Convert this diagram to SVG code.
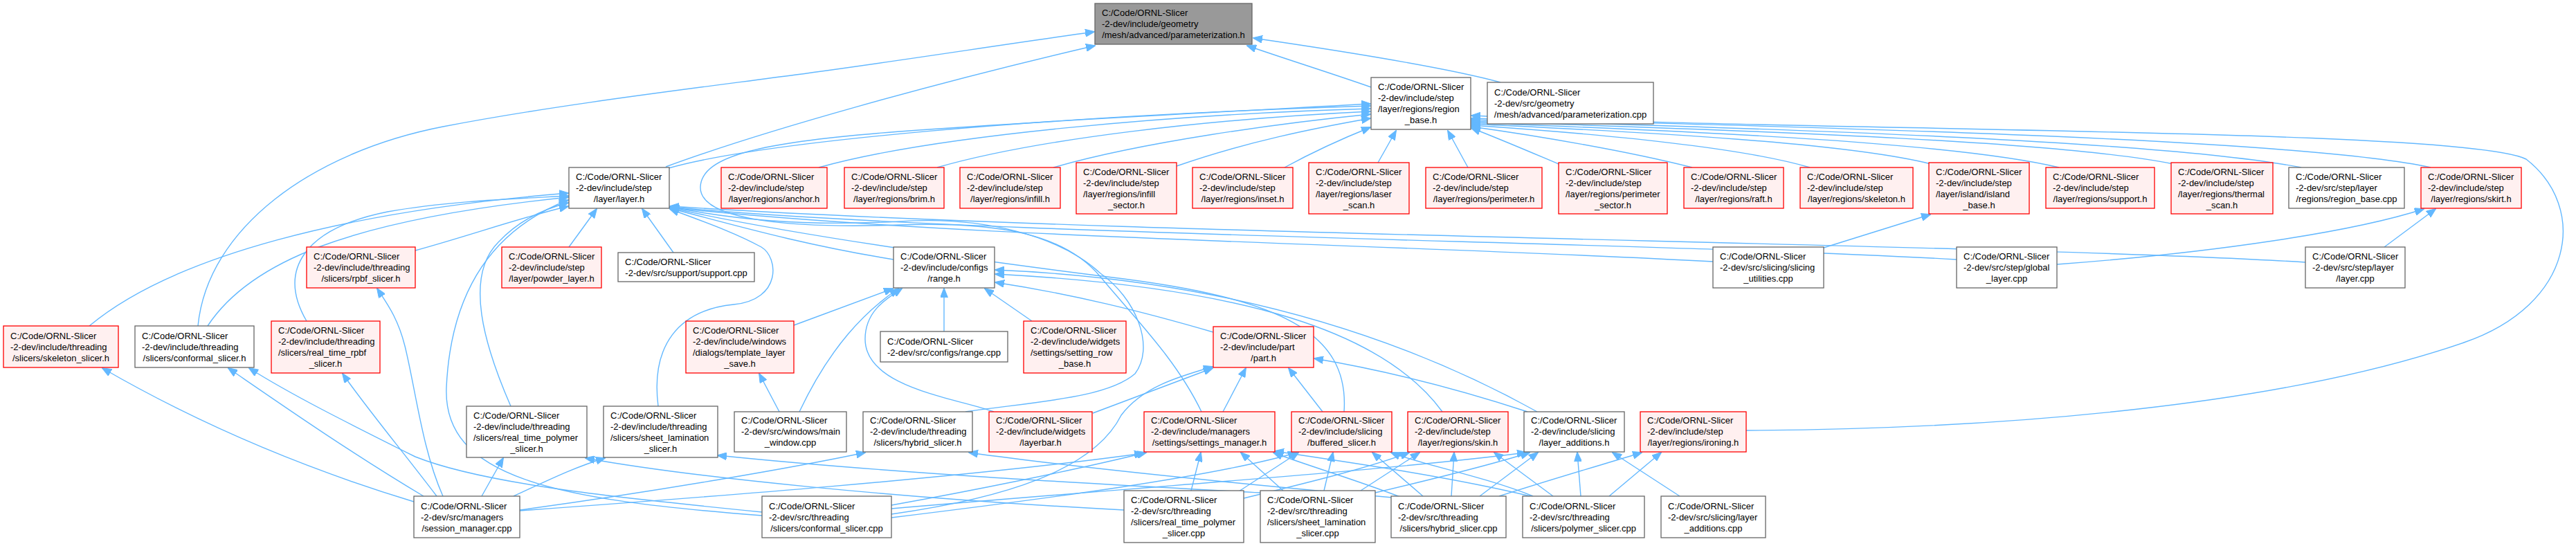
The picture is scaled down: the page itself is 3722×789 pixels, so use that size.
<svg xmlns="http://www.w3.org/2000/svg" width="3722" height="789" viewBox="0 0 3722 789">
<style>
.g{fill:#ffffff;stroke:#666666;stroke-width:1.3}
.r{fill:#fff0f0;stroke:#ff0000;stroke-width:1.3}
.root{fill:#999999;stroke:#666666;stroke-width:1.3}
text{font-family:"Liberation Sans",Arial,Helvetica,sans-serif;font-size:13px;fill:#000000}
.m{text-anchor:middle}
#edges path{fill:none;stroke:#63b8ff;stroke-width:1.4;marker-end:url(#ah)}
</style>
<defs>
<marker id="ah" markerWidth="14" markerHeight="11" refX="13" refY="5.5" orient="auto" markerUnits="userSpaceOnUse"><path d="M0,0 L14,5.5 L0,11 z" fill="#63b8ff" stroke="#63b8ff" stroke-width="1"/></marker>
</defs>
<rect x="0" y="0" width="3722" height="789" fill="#ffffff"/>
<g id="edges">
<path d="M1981,126 C1930,108 1860,86 1802,66"/>
<path d="M2168,119 C2080,95 1900,68 1811,55"/>
<path d="M962,241 C1100,190 1350,120 1582,66"/>
<path d="M286,471 C300,330 450,220 640,183 C800,152 1000,128 1150,108 C1300,88 1450,64 1581,46"/>
<path d="M1183,242 C1350,195 1700,165 1980,157"/>
<path d="M1354,242 C1500,200 1750,172 1980,161"/>
<path d="M1522,242 C1650,205 1850,178 1980,165"/>
<path d="M1700,240 C1800,205 1900,185 1980,171"/>
<path d="M1856,242 C1900,218 1940,200 1980,184"/>
<path d="M1991,235 L2017,189"/>
<path d="M2121,242 L2092,189"/>
<path d="M2252,237 C2200,215 2170,202 2126,185"/>
<path d="M2445,242 C2350,218 2220,196 2126,183"/>
<path d="M2615,242 C2500,208 2260,190 2126,181"/>
<path d="M2790,237 C2650,202 2300,188 2126,179"/>
<path d="M2975,242 C2800,200 2320,186 2126,177"/>
<path d="M3140,237 C2950,198 2350,184 2126,175"/>
<path d="M3325,242 C3100,198 2400,182 2126,173"/>
<path d="M3512,242 C3300,196 2450,180 2126,171"/>
<path d="M2523,622 C2900,620 3300,585 3560,495 C3720,440 3740,300 3650,230 C3560,185 2600,190 2126,167"/>
<path d="M966,243 C1100,205 1500,168 1980,153"/>
<path d="M1736,595 C1700,520 1640,460 1590,400 C1540,340 1450,320 1300,325 C1150,330 1010,320 1012,270 C1014,225 1100,205 1300,190 C1550,172 1800,160 1980,150"/>
<path d="M129,471 C250,370 500,305 821,279"/>
<path d="M300,471 C360,380 500,318 821,285"/>
<path d="M443,464 C400,390 440,330 560,306 C650,290 750,287 821,283"/>
<path d="M600,362 C680,340 750,315 821,298"/>
<path d="M738,587 C700,500 670,400 720,350 C750,318 785,302 821,293"/>
<path d="M1101,745 C800,722 640,690 645,560 C650,450 690,340 821,289"/>
<path d="M822,357 L862,302"/>
<path d="M973,365 L928,302"/>
<path d="M951,587 C940,500 980,448 1060,440 C1130,433 1125,372 1100,357 C1060,335 1010,318 968,302"/>
<path d="M1291,375 C1150,352 1050,322 968,301"/>
<path d="M2475,378 C2000,352 1400,345 968,300"/>
<path d="M2827,375 C2400,350 1400,340 968,299"/>
<path d="M3331,379 C2900,352 1600,340 968,298"/>
<path d="M1942,595 C1950,480 1850,430 1600,400 C1300,362 1100,330 968,300"/>
<path d="M1395,595 C1500,580 1600,575 1640,540 C1670,500 1640,430 1590,395 C1530,340 1420,312 1300,320 C1150,328 1050,315 968,299"/>
<path d="M1147,470 C1200,450 1250,432 1290,417"/>
<path d="M1155,595 C1200,500 1250,450 1298,417"/>
<path d="M1364,479 L1364,417"/>
<path d="M1491,464 L1423,417"/>
<path d="M1436,595 C1380,575 1250,560 1250,490 C1250,450 1280,432 1303,417"/>
<path d="M1753,480 C1650,450 1550,425 1438,408"/>
<path d="M2084,595 C2000,480 1800,415 1438,396"/>
<path d="M2221,595 C2050,500 1800,405 1438,390"/>
<path d="M1579,597 L1752,532"/>
<path d="M1288,743 C1450,720 1580,680 1620,600 C1650,560 1700,545 1752,530"/>
<path d="M1767,595 L1800,532"/>
<path d="M1911,595 L1862,532"/>
<path d="M2207,595 C2100,560 2000,535 1899,518"/>
<path d="M751,738 C1000,720 1400,690 1652,655"/>
<path d="M1288,730 C1400,710 1550,680 1656,654"/>
<path d="M1721,709 L1735,654"/>
<path d="M1854,709 L1793,654"/>
<path d="M2023,718 C1950,690 1880,670 1840,654"/>
<path d="M2211,717 C2100,690 1950,668 1842,652"/>
<path d="M1288,748 C1500,722 1750,690 1874,654"/>
<path d="M1790,710 L1876,654"/>
<path d="M1913,709 L1926,654"/>
<path d="M2056,717 L1983,654"/>
<path d="M2215,717 C2150,690 2050,670 2010,654"/>
<path d="M1797,720 C1900,695 1980,675 2036,654"/>
<path d="M1966,709 L2051,654"/>
<path d="M2097,717 L2101,654"/>
<path d="M2244,717 L2159,654"/>
<path d="M1288,735 C1700,700 2000,680 2205,654"/>
<path d="M1987,712 C2080,690 2160,670 2210,654"/>
<path d="M2138,717 L2222,654"/>
<path d="M2284,717 L2279,654"/>
<path d="M2427,717 L2330,654"/>
<path d="M2166,717 C2250,690 2320,670 2372,654"/>
<path d="M2325,717 L2400,654"/>
<path d="M751,737 C950,710 1150,675 1250,654"/>
<path d="M2023,720 C1800,700 1550,675 1400,654"/>
<path d="M696,717 L727,662"/>
<path d="M1624,737 C1300,720 1000,690 846,662"/>
<path d="M742,717 C790,695 830,675 874,662"/>
<path d="M1821,712 C1600,700 1300,685 1037,658"/>
<path d="M612,717 C500,650 400,580 330,532"/>
<path d="M1101,740 C900,720 700,700 600,660 C500,610 420,570 360,532"/>
<path d="M598,725 C450,680 300,620 148,532"/>
<path d="M631,717 C580,650 530,590 495,540"/>
<path d="M640,717 C610,650 600,560 585,500 C575,460 560,440 545,417"/>
<path d="M1126,595 L1097,540"/>
<path d="M2972,382 C3200,365 3400,335 3502,302"/>
<path d="M3445,357 L3519,302"/>
<path d="M2635,358 L2789,310"/>
</g>
<g id="n_param_h"><rect class="root" x="1582" y="5" width="227" height="59"/><text x="1592" y="23">C:/Code/ORNL-Slicer</text><text x="1592" y="39">-2-dev/include/geometry</text><text class="m" x="1695.5" y="55">/mesh/advanced/parameterization.h</text></g>
<g id="n_region_base_h"><rect class="g" x="1981" y="112" width="144" height="75"/><text x="1991" y="129.5">C:/Code/ORNL-Slicer</text><text x="1991" y="145.5">-2-dev/include/step</text><text x="1991" y="161.5">/layer/regions/region</text><text class="m" x="2053" y="177.5">_base.h</text></g>
<g id="n_param_cpp"><rect class="g" x="2149" y="119" width="240" height="60"/><text x="2159" y="137.5">C:/Code/ORNL-Slicer</text><text x="2159" y="153.5">-2-dev/src/geometry</text><text class="m" x="2269" y="169.5">/mesh/advanced/parameterization.cpp</text></g>
<g id="n_layer_h"><rect class="g" x="822" y="242" width="145" height="59"/><text x="832" y="260">C:/Code/ORNL-Slicer</text><text x="832" y="276">-2-dev/include/step</text><text class="m" x="894.5" y="292">/layer/layer.h</text></g>
<g id="n_anchor_h"><rect class="r" x="1042" y="242" width="153" height="59"/><text x="1052" y="260">C:/Code/ORNL-Slicer</text><text x="1052" y="276">-2-dev/include/step</text><text class="m" x="1118.5" y="292">/layer/regions/anchor.h</text></g>
<g id="n_brim_h"><rect class="r" x="1220" y="242" width="144" height="59"/><text x="1230" y="260">C:/Code/ORNL-Slicer</text><text x="1230" y="276">-2-dev/include/step</text><text class="m" x="1292" y="292">/layer/regions/brim.h</text></g>
<g id="n_infill_h"><rect class="r" x="1387" y="242" width="145" height="59"/><text x="1397" y="260">C:/Code/ORNL-Slicer</text><text x="1397" y="276">-2-dev/include/step</text><text class="m" x="1459.5" y="292">/layer/regions/infill.h</text></g>
<g id="n_infill_sector_h"><rect class="r" x="1555" y="235" width="145" height="74"/><text x="1565" y="252.5">C:/Code/ORNL-Slicer</text><text x="1565" y="268.5">-2-dev/include/step</text><text x="1565" y="284.5">/layer/regions/infill</text><text class="m" x="1627.5" y="300.5">_sector.h</text></g>
<g id="n_inset_h"><rect class="r" x="1723" y="242" width="145" height="59"/><text x="1733" y="260">C:/Code/ORNL-Slicer</text><text x="1733" y="276">-2-dev/include/step</text><text class="m" x="1795.5" y="292">/layer/regions/inset.h</text></g>
<g id="n_laser_scan_h"><rect class="r" x="1891" y="235" width="145" height="74"/><text x="1901" y="252.5">C:/Code/ORNL-Slicer</text><text x="1901" y="268.5">-2-dev/include/step</text><text x="1901" y="284.5">/layer/regions/laser</text><text class="m" x="1963.5" y="300.5">_scan.h</text></g>
<g id="n_perimeter_h"><rect class="r" x="2060" y="242" width="168" height="59"/><text x="2070" y="260">C:/Code/ORNL-Slicer</text><text x="2070" y="276">-2-dev/include/step</text><text class="m" x="2144" y="292">/layer/regions/perimeter.h</text></g>
<g id="n_perimeter_sector_h"><rect class="r" x="2252" y="235" width="157" height="74"/><text x="2262" y="252.5">C:/Code/ORNL-Slicer</text><text x="2262" y="268.5">-2-dev/include/step</text><text x="2262" y="284.5">/layer/regions/perimeter</text><text class="m" x="2330.5" y="300.5">_sector.h</text></g>
<g id="n_raft_h"><rect class="r" x="2433" y="242" width="144" height="59"/><text x="2443" y="260">C:/Code/ORNL-Slicer</text><text x="2443" y="276">-2-dev/include/step</text><text class="m" x="2505" y="292">/layer/regions/raft.h</text></g>
<g id="n_skeleton_h"><rect class="r" x="2601" y="242" width="163" height="59"/><text x="2611" y="260">C:/Code/ORNL-Slicer</text><text x="2611" y="276">-2-dev/include/step</text><text class="m" x="2682.5" y="292">/layer/regions/skeleton.h</text></g>
<g id="n_island_base_h"><rect class="r" x="2787" y="235" width="145" height="74"/><text x="2797" y="252.5">C:/Code/ORNL-Slicer</text><text x="2797" y="268.5">-2-dev/include/step</text><text x="2797" y="284.5">/layer/island/island</text><text class="m" x="2859.5" y="300.5">_base.h</text></g>
<g id="n_support_h"><rect class="r" x="2956" y="242" width="157" height="59"/><text x="2966" y="260">C:/Code/ORNL-Slicer</text><text x="2966" y="276">-2-dev/include/step</text><text class="m" x="3034.5" y="292">/layer/regions/support.h</text></g>
<g id="n_thermal_scan_h"><rect class="r" x="3137" y="235" width="147" height="74"/><text x="3147" y="252.5">C:/Code/ORNL-Slicer</text><text x="3147" y="268.5">-2-dev/include/step</text><text x="3147" y="284.5">/layer/regions/thermal</text><text class="m" x="3210.5" y="300.5">_scan.h</text></g>
<g id="n_region_base_cpp"><rect class="g" x="3307" y="242" width="167" height="59"/><text x="3317" y="260">C:/Code/ORNL-Slicer</text><text x="3317" y="276">-2-dev/src/step/layer</text><text class="m" x="3390.5" y="292">/regions/region_base.cpp</text></g>
<g id="n_skirt_h"><rect class="r" x="3498" y="242" width="145" height="59"/><text x="3508" y="260">C:/Code/ORNL-Slicer</text><text x="3508" y="276">-2-dev/include/step</text><text class="m" x="3570.5" y="292">/layer/regions/skirt.h</text></g>
<g id="n_rpbf_slicer_h"><rect class="r" x="443" y="357" width="157" height="59"/><text x="453" y="375">C:/Code/ORNL-Slicer</text><text x="453" y="391">-2-dev/include/threading</text><text class="m" x="521.5" y="407">/slicers/rpbf_slicer.h</text></g>
<g id="n_powder_layer_h"><rect class="r" x="725" y="357" width="144" height="59"/><text x="735" y="375">C:/Code/ORNL-Slicer</text><text x="735" y="391">-2-dev/include/step</text><text class="m" x="797" y="407">/layer/powder_layer.h</text></g>
<g id="n_support_cpp"><rect class="g" x="893" y="365" width="197" height="42"/><text x="903" y="382.5">C:/Code/ORNL-Slicer</text><text class="m" x="991.5" y="398.5">-2-dev/src/support/support.cpp</text></g>
<g id="n_range_h"><rect class="g" x="1291" y="357" width="146" height="59"/><text x="1301" y="375">C:/Code/ORNL-Slicer</text><text x="1301" y="391">-2-dev/include/configs</text><text class="m" x="1364" y="407">/range.h</text></g>
<g id="n_slicing_utilities_cpp"><rect class="g" x="2475" y="357" width="160" height="59"/><text x="2485" y="375">C:/Code/ORNL-Slicer</text><text x="2485" y="391">-2-dev/src/slicing/slicing</text><text class="m" x="2555" y="407">_utilities.cpp</text></g>
<g id="n_global_layer_cpp"><rect class="g" x="2827" y="357" width="145" height="59"/><text x="2837" y="375">C:/Code/ORNL-Slicer</text><text x="2837" y="391">-2-dev/src/step/global</text><text class="m" x="2899.5" y="407">_layer.cpp</text></g>
<g id="n_layer_cpp"><rect class="g" x="3331" y="357" width="144" height="59"/><text x="3341" y="375">C:/Code/ORNL-Slicer</text><text x="3341" y="391">-2-dev/src/step/layer</text><text class="m" x="3403" y="407">/layer.cpp</text></g>
<g id="n_skeleton_slicer_h"><rect class="r" x="5" y="471" width="166" height="60"/><text x="15" y="489.5">C:/Code/ORNL-Slicer</text><text x="15" y="505.5">-2-dev/include/threading</text><text class="m" x="88" y="521.5">/slicers/skeleton_slicer.h</text></g>
<g id="n_conformal_slicer_h"><rect class="g" x="195" y="471" width="172" height="60"/><text x="205" y="489.5">C:/Code/ORNL-Slicer</text><text x="205" y="505.5">-2-dev/include/threading</text><text class="m" x="281" y="521.5">/slicers/conformal_slicer.h</text></g>
<g id="n_real_time_rpbf_slicer_h"><rect class="r" x="392" y="464" width="157" height="75"/><text x="402" y="481.5">C:/Code/ORNL-Slicer</text><text x="402" y="497.5">-2-dev/include/threading</text><text x="402" y="513.5">/slicers/real_time_rpbf</text><text class="m" x="470.5" y="529.5">_slicer.h</text></g>
<g id="n_template_layer_save_h"><rect class="r" x="991" y="464" width="156" height="75"/><text x="1001" y="481.5">C:/Code/ORNL-Slicer</text><text x="1001" y="497.5">-2-dev/include/windows</text><text x="1001" y="513.5">/dialogs/template_layer</text><text class="m" x="1069" y="529.5">_save.h</text></g>
<g id="n_range_cpp"><rect class="g" x="1272" y="479" width="184" height="44"/><text x="1282" y="497.5">C:/Code/ORNL-Slicer</text><text class="m" x="1364" y="513.5">-2-dev/src/configs/range.cpp</text></g>
<g id="n_setting_row_base_h"><rect class="r" x="1479" y="464" width="148" height="75"/><text x="1489" y="481.5">C:/Code/ORNL-Slicer</text><text x="1489" y="497.5">-2-dev/include/widgets</text><text x="1489" y="513.5">/settings/setting_row</text><text class="m" x="1553" y="529.5">_base.h</text></g>
<g id="n_part_h"><rect class="r" x="1753" y="472" width="145" height="59"/><text x="1763" y="490">C:/Code/ORNL-Slicer</text><text x="1763" y="506">-2-dev/include/part</text><text class="m" x="1825.5" y="522">/part.h</text></g>
<g id="n_real_time_polymer_slicer_h"><rect class="g" x="674" y="587" width="174" height="74"/><text x="684" y="604.5">C:/Code/ORNL-Slicer</text><text x="684" y="620.5">-2-dev/include/threading</text><text x="684" y="636.5">/slicers/real_time_polymer</text><text class="m" x="761" y="652.5">_slicer.h</text></g>
<g id="n_sheet_lamination_slicer_h"><rect class="g" x="872" y="587" width="165" height="74"/><text x="882" y="604.5">C:/Code/ORNL-Slicer</text><text x="882" y="620.5">-2-dev/include/threading</text><text x="882" y="636.5">/slicers/sheet_lamination</text><text class="m" x="954.5" y="652.5">_slicer.h</text></g>
<g id="n_main_window_cpp"><rect class="g" x="1061" y="595" width="162" height="58"/><text x="1071" y="612">C:/Code/ORNL-Slicer</text><text x="1071" y="628">-2-dev/src/windows/main</text><text class="m" x="1142" y="644">_window.cpp</text></g>
<g id="n_hybrid_slicer_h"><rect class="g" x="1247" y="595" width="158" height="58"/><text x="1257" y="612">C:/Code/ORNL-Slicer</text><text x="1257" y="628">-2-dev/include/threading</text><text class="m" x="1326" y="644">/slicers/hybrid_slicer.h</text></g>
<g id="n_layerbar_h"><rect class="r" x="1429" y="595" width="149" height="58"/><text x="1439" y="612">C:/Code/ORNL-Slicer</text><text x="1439" y="628">-2-dev/include/widgets</text><text class="m" x="1503.5" y="644">/layerbar.h</text></g>
<g id="n_settings_manager_h"><rect class="r" x="1653" y="595" width="189" height="58"/><text x="1663" y="612">C:/Code/ORNL-Slicer</text><text x="1663" y="628">-2-dev/include/managers</text><text class="m" x="1747.5" y="644">/settings/settings_manager.h</text></g>
<g id="n_buffered_slicer_h"><rect class="r" x="1866" y="595" width="145" height="58"/><text x="1876" y="612">C:/Code/ORNL-Slicer</text><text x="1876" y="628">-2-dev/include/slicing</text><text class="m" x="1938.5" y="644">/buffered_slicer.h</text></g>
<g id="n_skin_h"><rect class="r" x="2034" y="595" width="145" height="58"/><text x="2044" y="612">C:/Code/ORNL-Slicer</text><text x="2044" y="628">-2-dev/include/step</text><text class="m" x="2106.5" y="644">/layer/regions/skin.h</text></g>
<g id="n_layer_additions_h"><rect class="g" x="2202" y="595" width="145" height="58"/><text x="2212" y="612">C:/Code/ORNL-Slicer</text><text x="2212" y="628">-2-dev/include/slicing</text><text class="m" x="2274.5" y="644">/layer_additions.h</text></g>
<g id="n_ironing_h"><rect class="r" x="2370" y="595" width="153" height="58"/><text x="2380" y="612">C:/Code/ORNL-Slicer</text><text x="2380" y="628">-2-dev/include/step</text><text class="m" x="2446.5" y="644">/layer/regions/ironing.h</text></g>
<g id="n_session_manager_cpp"><rect class="g" x="598" y="717" width="153" height="60"/><text x="608" y="735.5">C:/Code/ORNL-Slicer</text><text x="608" y="751.5">-2-dev/src/managers</text><text class="m" x="674.5" y="767.5">/session_manager.cpp</text></g>
<g id="n_conformal_slicer_cpp"><rect class="g" x="1101" y="717" width="187" height="60"/><text x="1111" y="735.5">C:/Code/ORNL-Slicer</text><text x="1111" y="751.5">-2-dev/src/threading</text><text class="m" x="1194.5" y="767.5">/slicers/conformal_slicer.cpp</text></g>
<g id="n_real_time_polymer_slicer_cpp"><rect class="g" x="1624" y="709" width="173" height="75"/><text x="1634" y="726.5">C:/Code/ORNL-Slicer</text><text x="1634" y="742.5">-2-dev/src/threading</text><text x="1634" y="758.5">/slicers/real_time_polymer</text><text class="m" x="1710.5" y="774.5">_slicer.cpp</text></g>
<g id="n_sheet_lamination_slicer_cpp"><rect class="g" x="1821" y="709" width="166" height="75"/><text x="1831" y="726.5">C:/Code/ORNL-Slicer</text><text x="1831" y="742.5">-2-dev/src/threading</text><text x="1831" y="758.5">/slicers/sheet_lamination</text><text class="m" x="1904" y="774.5">_slicer.cpp</text></g>
<g id="n_hybrid_slicer_cpp"><rect class="g" x="2010" y="717" width="166" height="60"/><text x="2020" y="735.5">C:/Code/ORNL-Slicer</text><text x="2020" y="751.5">-2-dev/src/threading</text><text class="m" x="2093" y="767.5">/slicers/hybrid_slicer.cpp</text></g>
<g id="n_polymer_slicer_cpp"><rect class="g" x="2200" y="717" width="176" height="60"/><text x="2210" y="735.5">C:/Code/ORNL-Slicer</text><text x="2210" y="751.5">-2-dev/src/threading</text><text class="m" x="2288" y="767.5">/slicers/polymer_slicer.cpp</text></g>
<g id="n_layer_additions_cpp"><rect class="g" x="2400" y="717" width="151" height="60"/><text x="2410" y="735.5">C:/Code/ORNL-Slicer</text><text x="2410" y="751.5">-2-dev/src/slicing/layer</text><text class="m" x="2475.5" y="767.5">_additions.cpp</text></g>
</svg>
